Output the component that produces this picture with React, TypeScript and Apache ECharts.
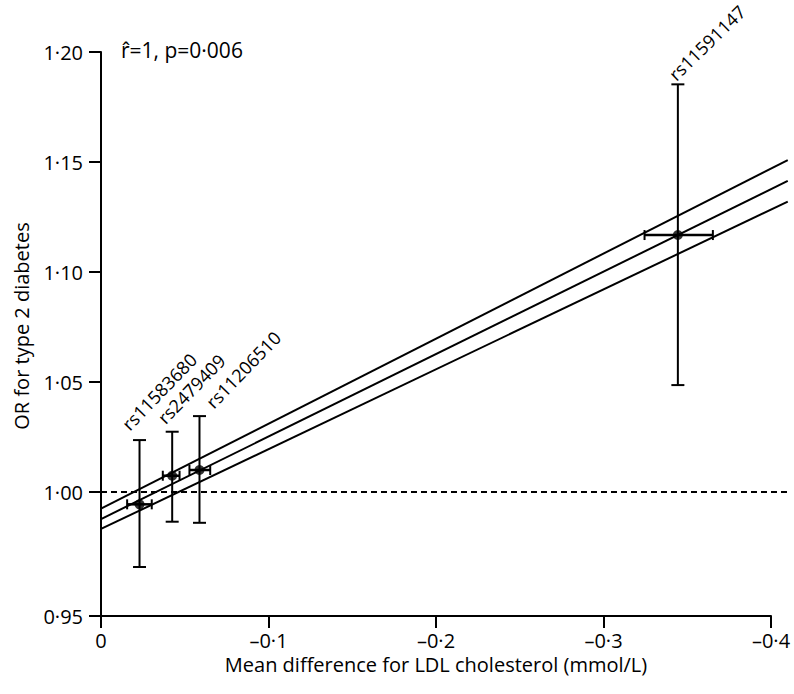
import React, { useEffect, useRef } from "react";
import * as echarts from "echarts";

// ---- data ----
const snpNames = ["rs11583680", "rs2479409", "rs11206510", "rs11591147"];
const ldlDiff = [-0.023, -0.0425, -0.0588, -0.3444];
const ldlCiNear = [-0.0156, -0.0369, -0.0528, -0.3245];
const ldlCiFar = [-0.0303, -0.0469, -0.0652, -0.3653];
const orValue = [0.9944, 1.0074, 1.01, 1.1168];
const orCiLow = [0.9659, 0.9865, 0.986, 1.0486];
const orCiHigh = [1.0236, 1.0274, 1.0345, 1.1853];

// fitted line (middle) and its confidence band, from x = 0 to x = -0.41
const fitX = [0, -0.41];
const fitMid = [0.9877, 1.1414];
const fitUpper = [0.9924, 1.1509];
const fitLower = [0.9832, 1.132];
const refLineY = [1.0, 1.0];

const xTickValues = [0, -0.1, -0.2, -0.3, -0.4];
const xTickLabels = ["0", "–0·1", "–0·2", "–0·3", "–0·4"];
// the reference's y axis has a wider gap below 1·00: its "0·95" tick sits at the axis foot
const yAxisFoot = 0.94364;
const yTickValues = [yAxisFoot, 1.0, 1.05, 1.1, 1.15, 1.2];
const yTickLabels = ["0·95", "1·00", "1·05", "1·10", "1·15", "1·20"];

const annotation = "r\u0302=1, p=0·006";
const xTitle = "Mean difference for LDL cholesterol (mmol/L)";
const yTitle = "OR for type 2 diabetes";

// layout only: nudge (px) of each SNP label's anchor from its upper cap, and its angle
const labelNudgeX = [-8, -5, 16, 0];
const labelNudgeY = [-7, -5, -5, -1];
const labelAngle = [46, 46, 46, 44];

const FONT = "Open Sans";
const FS = 20;
const LABEL_FS = 18;

export default function App() {
  const ref = useRef<HTMLDivElement>(null);
  useEffect(() => {
    if (!ref.current) return;
    const chart = echarts.init(ref.current, null, { renderer: "svg" });

    const points = snpNames.map((n, i) => [
      ldlDiff[i], orValue[i], orCiLow[i], orCiHigh[i], ldlCiNear[i], ldlCiFar[i], i,
    ]);

    const nearestLabel = (v: number, vals: number[], labels: string[]) => {
      let best = 0;
      vals.forEach((t, i) => {
        if (Math.abs(t - v) < Math.abs(vals[best] - v)) best = i;
      });
      return labels[best];
    };

    // segments: [x0, y0, x1, y1, dashed]
    const segments = [
      [fitX[0], refLineY[0], fitX[1], refLineY[1], 1],
      [fitX[0], fitUpper[0], fitX[1], fitUpper[1], 0],
      [fitX[0], fitMid[0], fitX[1], fitMid[1], 0],
      [fitX[0], fitLower[0], fitX[1], fitLower[1], 0],
    ];

    const textStyle = { fontFamily: FONT, fontSize: FS, color: "#000" };

    chart.setOption({
      animation: false,
      grid: { left: 101, top: 52, width: 670, height: 564, containLabel: false },
      xAxis: {
        type: "value",
        inverse: true,
        min: -0.4,
        max: 0,
        interval: 0.1,
        name: xTitle,
        nameLocation: "middle",
        nameGap: 38,
        nameTextStyle: textStyle,
        axisLine: { onZero: false, lineStyle: { color: "#000", width: 2 } },
        axisTick: { show: true, length: 12, inside: false, lineStyle: { color: "#000", width: 2 } },
        axisLabel: {
          margin: 14,
          ...textStyle,
          formatter: (v: number) => nearestLabel(v, xTickValues, xTickLabels),
        },
        splitLine: { show: false },
      },
      yAxis: {
        type: "value",
        min: yAxisFoot,
        max: 1.2,
        name: yTitle,
        nameLocation: "middle",
        nameGap: 70,
        nameTextStyle: { ...textStyle, padding: [0, 0, 0, 16] },
        axisLine: { onZero: false, lineStyle: { color: "#000", width: 2 } },
        axisTick: {
          show: true,
          length: 12,
          inside: false,
          customValues: yTickValues,
          lineStyle: { color: "#000", width: 2 },
        },
        axisLabel: {
          margin: 18,
          ...textStyle,
          customValues: yTickValues,
          formatter: (v: number) => nearestLabel(v, yTickValues, yTickLabels),
        },
        splitLine: { show: false },
      },
      graphic: [
        {
          type: "text",
          left: 121,
          top: 39,
          style: { text: annotation, fontFamily: FONT, fontSize: 21, fill: "#000" },
        },
      ],
      series: [
        {
          type: "custom",
          data: segments,
          clip: false,
          silent: true,
          z: 2,
          renderItem: (params: any, api: any) => {
            const a = api.coord([api.value(0), api.value(1)]);
            const b = api.coord([api.value(2), api.value(3)]);
            const dashed = api.value(4) === 1;
            return {
              type: "line",
              shape: { x1: a[0], y1: a[1], x2: b[0], y2: b[1] },
              style: dashed
                ? { stroke: "#000", lineWidth: 1.8, lineDash: [6, 4] }
                : { stroke: "#000", lineWidth: 2 },
            };
          },
        },
        {
          type: "custom",
          data: points,
          clip: false,
          z: 3,
          renderItem: (params: any, api: any) => {
            const x = api.value(0);
            const y = api.value(1);
            const yl = api.value(2);
            const yh = api.value(3);
            const xn = api.value(4);
            const xf = api.value(5);
            const idx = api.value(6);
            const top = api.coord([x, yh]);
            const bot = api.coord([x, yl]);
            const left = api.coord([xn, y]);
            const right = api.coord([xf, y]);
            const cap = 6.5;
            const hcap = 5;
            const st = { stroke: "#000", lineWidth: 2 };
            return {
              type: "group",
              children: [
                { type: "line", shape: { x1: top[0], y1: top[1], x2: bot[0], y2: bot[1] }, style: st },
                { type: "line", shape: { x1: top[0] - cap, y1: top[1], x2: top[0] + cap, y2: top[1] }, style: st },
                { type: "line", shape: { x1: bot[0] - cap, y1: bot[1], x2: bot[0] + cap, y2: bot[1] }, style: st },
                { type: "line", shape: { x1: left[0], y1: left[1], x2: right[0], y2: right[1] }, style: { stroke: "#000", lineWidth: 2.5 } },
                { type: "line", shape: { x1: left[0], y1: left[1] - hcap, x2: left[0], y2: left[1] + hcap }, style: st },
                { type: "line", shape: { x1: right[0], y1: right[1] - hcap, x2: right[0], y2: right[1] + hcap }, style: st },
                {
                  type: "text",
                  x: top[0] + labelNudgeX[idx],
                  y: top[1] + labelNudgeY[idx],
                  rotation: (labelAngle[idx] * Math.PI) / 180,
                  style: {
                    text: snpNames[idx],
                    fontFamily: FONT,
                    fontSize: LABEL_FS,
                    fill: "#000",
                    align: "left",
                    verticalAlign: "bottom",
                  },
                },
              ],
            };
          },
        },
        {
          type: "scatter",
          data: ldlDiff.map((x, i) => [x, orValue[i]]),
          symbol: "circle",
          symbolSize: 10,
          itemStyle: { color: "#000" },
          silent: true,
          z: 4,
        },
      ],
    });
    return () => chart.dispose();
  }, []);
  return (
    <div
      ref={ref}
      style={{ position: "absolute", left: 0, top: 0, width: 794, height: 694, background: "#fff" }}
    />
  );
}
